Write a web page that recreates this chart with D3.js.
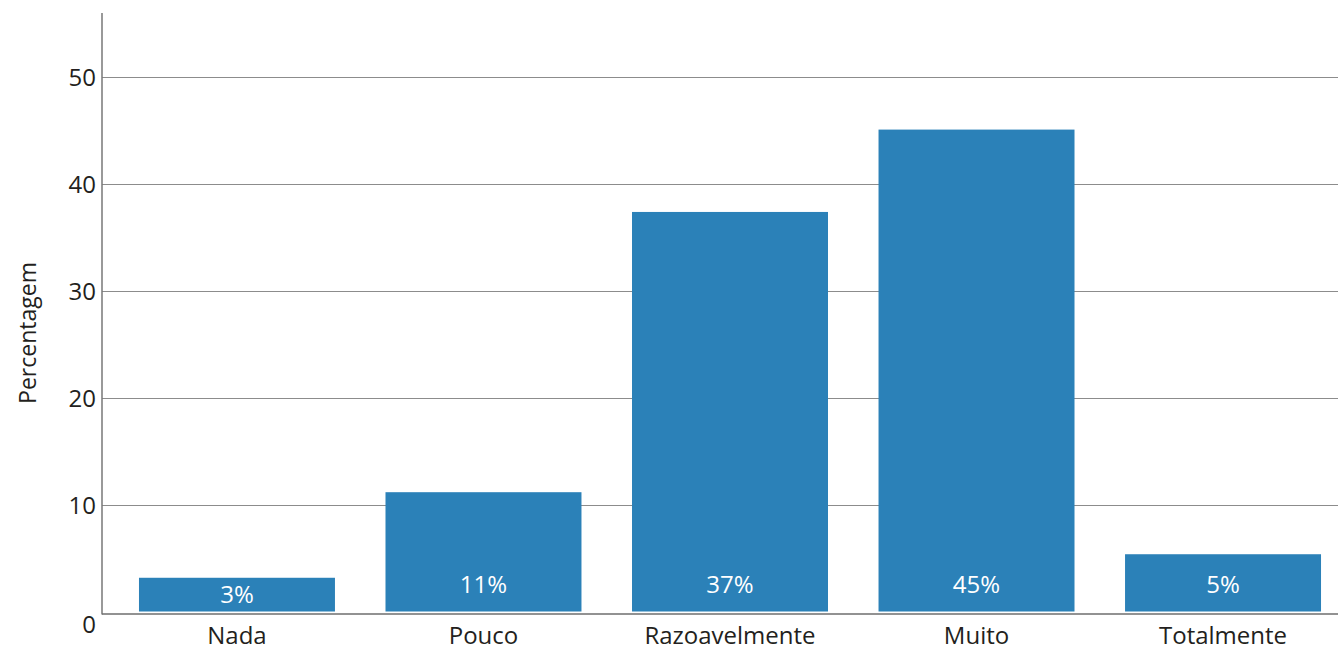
<!DOCTYPE html>
<html>
<head>
<meta charset="utf-8">
<script src="https://cdn.jsdelivr.net/npm/d3@7"></script>
<style>
  html, body { margin: 0; padding: 0; background: #fff; }
  svg { display: block; font-family: "Open Sans", "Noto Sans", sans-serif; }
</style>
</head>
<body>
<svg id="chart" width="1338" height="650"></svg>
<script>
// Response categories and share of respondents (%)
const categories = ["Nada", "Pouco", "Razoavelmente", "Muito", "Totalmente"];
const values = [3.2, 11.2, 37.4, 45.1, 5.4];
const yTicks = [0, 10, 20, 30, 40, 50];
const yTitle = "Percentagem";

const width = 1338, height = 650;
const svg = d3.select("#chart");

const x = d3.scaleBand()
  .domain(categories)
  .range([102, 1358])
  .paddingInner(0.205)
  .paddingOuter(0.15);

const y = d3.scaleLinear()
  .domain([0, 56])
  .range([612, 13]);

const axisX = 102;
const textColor = "#231f20";

// Horizontal gridlines
svg.append("g")
  .selectAll("line")
  .data(yTicks.filter(t => t > 0))
  .join("line")
  .attr("x1", axisX)
  .attr("x2", width)
  .attr("y1", d => Math.round(y(d)) + 0.5)
  .attr("y2", d => Math.round(y(d)) + 0.5)
  .attr("stroke", "#8c8c8c")
  .attr("stroke-width", 1.2);

// Y axis with tick labels
const yAxis = d3.axisLeft(y)
  .tickValues(yTicks)
  .tickSize(0)
  .tickPadding(6)
  .tickFormat(d3.format("d"));

const gy = svg.append("g")
  .attr("transform", `translate(${axisX},0)`)
  .call(yAxis);
gy.select(".domain").remove();
gy.selectAll("text")
  .attr("font-family", "Open Sans, Noto Sans, sans-serif")
  .attr("font-size", 24)
  .attr("fill", textColor)
  .attr("dy", d => d === 0 ? "0.85em" : "0.35em");

// Bars
svg.append("g")
  .selectAll("rect")
  .data(values)
  .join("rect")
  .attr("x", (d, i) => x(categories[i]))
  .attr("width", x.bandwidth())
  .attr("y", d => y(d))
  .attr("height", d => y(0) - 0.5 - y(d))
  .attr("fill", "#2b81b8");

// Value labels inside the bars
const fmt = d3.format(".0f");
svg.append("g")
  .selectAll("text")
  .data(values)
  .join("text")
  .attr("x", (d, i) => x(categories[i]) + x.bandwidth() / 2)
  .attr("y", d => Math.max((y(d) + y(0)) / 2, y(0) - 27))
  .attr("dy", "0.35em")
  .attr("text-anchor", "middle")
  .attr("font-size", 24)
  .attr("fill", "#ffffff")
  .text(d => fmt(d) + "%");

// Axis lines
svg.append("line")
  .attr("x1", axisX).attr("x2", axisX)
  .attr("y1", 13).attr("y2", y(0) + 2.5)
  .attr("stroke", "#777")
  .attr("stroke-width", 1.5);
svg.append("line")
  .attr("x1", axisX).attr("x2", width)
  .attr("y1", y(0) + 2).attr("y2", y(0) + 2)
  .attr("stroke", "#6e6e6e")
  .attr("stroke-width", 1.5);

// Category labels
svg.append("g")
  .selectAll("text")
  .data(categories)
  .join("text")
  .attr("x", d => x(d) + x.bandwidth() / 2)
  .attr("y", 644)
  .attr("text-anchor", "middle")
  .attr("font-size", 24)
  .attr("fill", textColor)
  .text(d => d);

// Y axis title
svg.append("text")
  .attr("transform", `translate(36,333) rotate(-90)`)
  .attr("text-anchor", "middle")
  .attr("font-size", 23)
  .attr("fill", textColor)
  .text(yTitle);
</script>
</body>
</html>
